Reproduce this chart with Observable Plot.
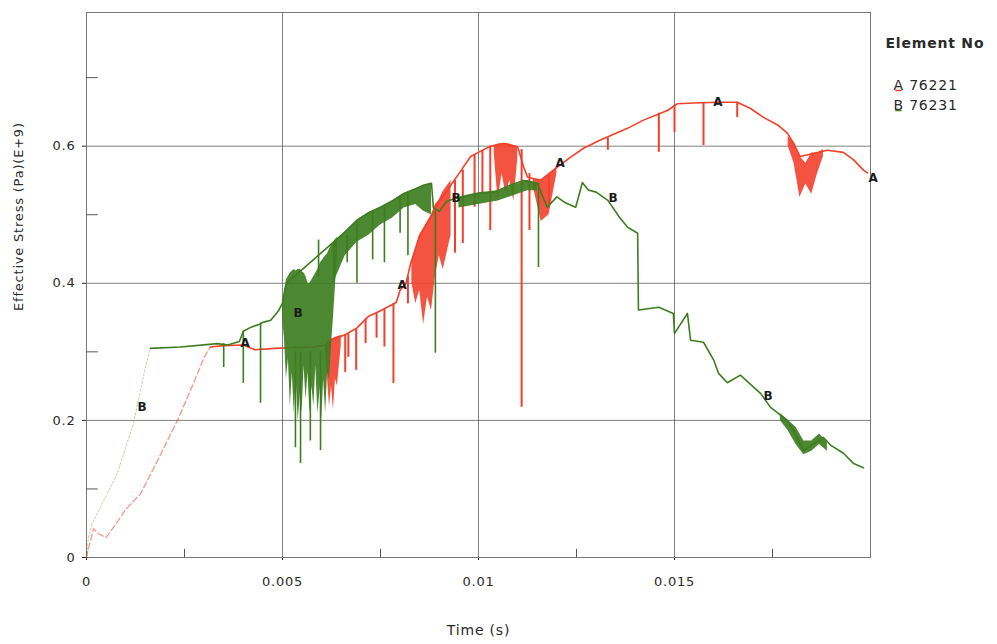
<!DOCTYPE html>
<html><head><meta charset="utf-8">
<script src="https://cdn.jsdelivr.net/npm/d3@7"></script>
<script src="https://cdn.jsdelivr.net/npm/@observablehq/plot@0.6"></script>
<style>body{margin:0;background:#fff}</style>
</head><body><div id="chart"></div>
<script>
// ---- axis ticks ----
const xTicks = [0, 0.005, 0.01, 0.015];
const xTickLabels = ["0", "0.005", "0.01", "0.015"];
const yTicks = [0, 0.2, 0.4, 0.6];
const yTickLabels = ["0", "0.2", "0.4", "0.6"];
const minorX = [0.0025, 0.0075, 0.0125, 0.0175];
const minorY = [0.1, 0.3, 0.5, 0.7];

// ---- series A: element 76221 (red) ----
const timeA = [0, 0.00008, 0.00018, 0.0003, 0.0005, 0.0007, 0.001, 0.00138, 0.0018, 0.00232, 0.0027, 0.003, 0.00316, 0.0035, 0.004, 0.0043, 0.0048, 0.0052, 0.0058, 0.0061, 0.0062, 0.00635, 0.0066, 0.0069, 0.0072, 0.0075, 0.0079, 0.008, 0.00815, 0.00827, 0.0085, 0.00878, 0.009, 0.00921, 0.0095, 0.0098, 0.01, 0.0103, 0.01064, 0.011, 0.01115, 0.01125, 0.01158, 0.01191, 0.01235, 0.01268, 0.01311, 0.0138, 0.01421, 0.01482, 0.01508, 0.0155, 0.01612, 0.0166, 0.01694, 0.01727, 0.01763, 0.01788, 0.01804, 0.0182, 0.0186, 0.0189, 0.01931, 0.01957, 0.01982, 0.01992];
const stressA = [0, 0.02, 0.042, 0.035, 0.029, 0.045, 0.07, 0.093, 0.14, 0.2, 0.25, 0.292, 0.307, 0.309, 0.31, 0.303, 0.305, 0.306, 0.307, 0.31, 0.317, 0.32, 0.325, 0.335, 0.352, 0.36, 0.372, 0.39, 0.4, 0.429, 0.47, 0.496, 0.52, 0.536, 0.56, 0.585, 0.591, 0.6, 0.604, 0.599, 0.57, 0.555, 0.55, 0.565, 0.584, 0.597, 0.609, 0.626, 0.638, 0.652, 0.662, 0.663, 0.664, 0.664, 0.655, 0.642, 0.631, 0.619, 0.604, 0.585, 0.59, 0.594, 0.591, 0.58, 0.565, 0.561];
// downward spikes: time, top, bottom
const spikeTimeA = [0.0066, 0.00668, 0.00688, 0.00712, 0.0074, 0.0076, 0.00783, 0.0082, 0.0094, 0.0096, 0.0099, 0.0101, 0.0103, 0.0111, 0.0113, 0.0118, 0.0133, 0.0146, 0.0150, 0.01574, 0.0166];
const spikeTopA = [0.325, 0.326, 0.333, 0.348, 0.356, 0.362, 0.37, 0.41, 0.55, 0.565, 0.588, 0.594, 0.6, 0.595, 0.56, 0.558, 0.612, 0.648, 0.66, 0.663, 0.664];
const spikeLowA = [0.27, 0.292, 0.273, 0.312, 0.32, 0.307, 0.254, 0.37, 0.444, 0.458, 0.511, 0.53, 0.477, 0.219, 0.477, 0.51, 0.594, 0.591, 0.62, 0.601, 0.642];
// densely oscillating stretches: time, upper, lower
const bandTimeA = [[0.0061, 0.0062, 0.00625, 0.0063, 0.00635, 0.0064, 0.0065], [0.0083, 0.0084, 0.0085, 0.0086, 0.0087, 0.0088, 0.0089, 0.009, 0.0091, 0.0093], [0.0104, 0.0105, 0.0106, 0.0107, 0.0108, 0.0109, 0.011], [0.0114, 0.0116, 0.0118, 0.012], [0.0179, 0.01805, 0.0182, 0.01835, 0.0185, 0.01865, 0.0188]];
const bandHighA = [[0.31, 0.317, 0.318, 0.32, 0.321, 0.322, 0.324], [0.43, 0.45, 0.47, 0.48, 0.49, 0.5, 0.515, 0.522, 0.534, 0.55], [0.601, 0.603, 0.604, 0.604, 0.603, 0.601, 0.599], [0.553, 0.551, 0.558, 0.57], [0.615, 0.604, 0.585, 0.575, 0.59, 0.59, 0.595]];
const bandLowA = [[0.3, 0.22, 0.25, 0.215, 0.26, 0.25, 0.31], [0.4, 0.37, 0.39, 0.34, 0.38, 0.36, 0.41, 0.44, 0.42, 0.47], [0.59, 0.52, 0.56, 0.53, 0.55, 0.52, 0.58], [0.54, 0.49, 0.5, 0.56], [0.6, 0.575, 0.525, 0.545, 0.53, 0.56, 0.585]];

// ---- series B: element 76231 (green) ----
const timeB = [0, 0.00005, 0.00015, 0.00079, 0.0012, 0.0015, 0.00163, 0.0024, 0.00334, 0.0036, 0.0039, 0.004, 0.0042, 0.0044, 0.0045, 0.0047, 0.0049, 0.005, 0.0051, 0.0063, 0.0066, 0.0069, 0.0072, 0.0075, 0.0078, 0.0081, 0.0084, 0.0086, 0.0088, 0.00885, 0.009, 0.0092, 0.00944, 0.0096, 0.01, 0.0104, 0.0108, 0.01115, 0.0115, 0.01175, 0.012, 0.0122, 0.01248, 0.01265, 0.0128, 0.013, 0.0133, 0.0136, 0.0138, 0.01406, 0.01408, 0.0146, 0.01497, 0.015, 0.01533, 0.01541, 0.01574, 0.016, 0.01612, 0.01635, 0.01668, 0.0172, 0.01745, 0.01788, 0.01804, 0.01829, 0.01855, 0.0188, 0.01898, 0.01931, 0.01957, 0.01982];
const stressB = [0, 0.03, 0.05, 0.123, 0.196, 0.277, 0.305, 0.307, 0.312, 0.31, 0.315, 0.33, 0.336, 0.34, 0.343, 0.346, 0.36, 0.371, 0.4, 0.46, 0.475, 0.492, 0.503, 0.511, 0.52, 0.531, 0.538, 0.543, 0.546, 0.51, 0.505, 0.52, 0.524, 0.526, 0.531, 0.533, 0.543, 0.55, 0.546, 0.511, 0.526, 0.518, 0.511, 0.547, 0.536, 0.533, 0.521, 0.496, 0.482, 0.473, 0.361, 0.365, 0.356, 0.327, 0.356, 0.317, 0.314, 0.288, 0.269, 0.255, 0.266, 0.239, 0.219, 0.2, 0.185, 0.156, 0.166, 0.175, 0.164, 0.152, 0.137, 0.131];
const spikeTimeB = [0.0035, 0.004, 0.00444, 0.00533, 0.00546, 0.00571, 0.00597, 0.00592, 0.00665, 0.0069, 0.0073, 0.0076, 0.008, 0.0082, 0.0089, 0.01153];
const spikeTopB = [0.312, 0.33, 0.342, 0.3, 0.3, 0.3, 0.3, 0.41, 0.47, 0.49, 0.505, 0.513, 0.525, 0.533, 0.505, 0.546];
const spikeLowB = [0.277, 0.254, 0.225, 0.16, 0.137, 0.17, 0.156, 0.463, 0.43, 0.4, 0.434, 0.43, 0.473, 0.44, 0.298, 0.423];
const bandTimeB = [[0.005, 0.00505, 0.0051, 0.00515, 0.0052, 0.00525, 0.0053, 0.00535, 0.0054, 0.00546, 0.0055, 0.00555, 0.0056, 0.00565, 0.0057, 0.00575, 0.0058, 0.00585, 0.0059, 0.00597, 0.006, 0.00605, 0.0061, 0.00615, 0.0062, 0.00625, 0.0063, 0.0064], [0.0063, 0.0066, 0.0069, 0.0072, 0.0075, 0.0078, 0.0081, 0.0084, 0.0086, 0.0088], [0.0095, 0.01, 0.0105, 0.011, 0.01125, 0.0115], [0.0177, 0.0179, 0.0181, 0.0183, 0.0185, 0.0187, 0.0189]];
const bandHighB = [[0.37, 0.39, 0.405, 0.41, 0.415, 0.418, 0.42, 0.418, 0.42, 0.42, 0.417, 0.415, 0.41, 0.40, 0.40, 0.405, 0.41, 0.415, 0.42, 0.43, 0.432, 0.436, 0.44, 0.443, 0.45, 0.455, 0.46, 0.467], [0.46, 0.475, 0.492, 0.503, 0.511, 0.52, 0.531, 0.538, 0.543, 0.546], [0.526, 0.532, 0.535, 0.545, 0.55, 0.546], [0.21, 0.2, 0.19, 0.17, 0.17, 0.18, 0.168]];
const bandLowB = [[0.35, 0.32, 0.26, 0.29, 0.22, 0.27, 0.21, 0.26, 0.2, 0.24, 0.21, 0.28, 0.23, 0.27, 0.21, 0.25, 0.22, 0.28, 0.21, 0.25, 0.2, 0.26, 0.21, 0.27, 0.26, 0.31, 0.35, 0.44], [0.4, 0.44, 0.46, 0.47, 0.485, 0.495, 0.51, 0.515, 0.505, 0.5], [0.51, 0.515, 0.52, 0.53, 0.535, 0.535], [0.2, 0.185, 0.165, 0.15, 0.155, 0.165, 0.155]];

// ---- curve letter markers ----
const markTimeA = [0.00406, 0.00806, 0.01209, 0.01612, 0.02008];
const markStressA = [0.313, 0.397, 0.575, 0.664, 0.553];
const markTimeB = [0.00143, 0.00541, 0.00944, 0.01344, 0.0174];
const markStressB = [0.219, 0.356, 0.524, 0.524, 0.235];

// ---- legend ----
const legendTitle = "Element No";
const legendLetters = ["A", "B"];
const legendIds = ["76221", "76231"];
const seriesColors = ["#f2402b", "#3d7d1f"];

const pts = (ts, ys) => ts.map((t, i) => ({t, y: ys[i]}));
const spikes = (ts, hi, lo) => ts.map((t, i) => ({t, hi: hi[i], lo: lo[i]}));
const bands = (tss, his, los, id) => tss.flatMap((ts, j) => ts.map((t, i) => ({band: id + j, t, hi: his[j][i], lo: los[j][i]})));

const lineA = pts(timeA, stressA), lineB = pts(timeB, stressB);
const spA = spikes(spikeTimeA, spikeTopA, spikeLowA), spB = spikes(spikeTimeB, spikeTopB, spikeLowB);
const bdA = bands(bandTimeA, bandHighA, bandLowA, "A"), bdB = bands(bandTimeB, bandHighB, bandLowB, "B");
const mkA = pts(markTimeA, markStressA), mkB = pts(markTimeB, markStressB);

const [red, green] = seriesColors;
// early, lightly-drawn loading ramps
const rampEndA = 0.00316, rampEndB = 0.00163;

// short horizontal dash symbol used as the legend underline
const dash = {draw(ctx, size) { const r = Math.sqrt(size) / 2; ctx.moveTo(-r, 0); ctx.lineTo(r, 0); }};

const legendMarks = legendLetters.flatMap((l, i) => [
  Plot.text([l + " " + legendIds[i]], {frameAnchor: "top-right", dx: 23, dy: 68 + i * 20, textAnchor: "start", fontSize: 14, fill: "#2a2a2a"}),
  Plot.dot([l], {frameAnchor: "top-right", dx: 28, dy: 78 + i * 20, symbol: dash, r: 3.5, stroke: seriesColors[i], strokeWidth: 1.5})
]);

const chart = Plot.plot({
  width: 997, height: 644,
  marginTop: 12, marginRight: 127, marginBottom: 87, marginLeft: 86,
  style: {fontFamily: "DejaVu Sans", fontSize: "13px", color: "#2a2a2a", background: "#fff", letterSpacing: "0.8px"},
  x: {domain: [0, 0.02], ticks: xTicks, tickFormat: d => xTickLabels[xTicks.indexOf(d)], tickSize: 3, tickPadding: 16, label: null},
  y: {domain: [0, 0.795], ticks: yTicks, tickFormat: d => yTickLabels[yTicks.indexOf(d)], tickSize: 4, tickPadding: 7, label: null},
  marks: [
    Plot.ruleX(xTicks.slice(1), {stroke: "#555", strokeOpacity: 0.75}),
    Plot.ruleY(yTicks.slice(1), {stroke: "#555", strokeOpacity: 0.75}),
    Plot.frame({stroke: "#777"}),
    Plot.ruleX(minorX, {y1: 0, y2: 0.012, stroke: "#555"}),
    Plot.ruleY(minorY, {x1: 0, x2: 0.0003, stroke: "#555"}),
    // red
    Plot.areaY(bdA, {x: "t", y1: "lo", y2: "hi", z: "band", fill: red, fillOpacity: 0.9}),
    Plot.ruleX(spA, {x: "t", y1: "hi", y2: "lo", stroke: red, strokeWidth: 2}),
    Plot.line(lineA.filter(d => d.t <= rampEndA), {x: "t", y: "y", stroke: red, strokeWidth: 1.3, strokeOpacity: 0.55, strokeDasharray: "6,3"}),
    Plot.line(lineA.filter(d => d.t >= rampEndA), {x: "t", y: "y", stroke: red, strokeWidth: 1.6}),
    // green
    Plot.areaY(bdB, {x: "t", y1: "lo", y2: "hi", z: "band", fill: green, fillOpacity: 0.92}),
    Plot.ruleX(spB, {x: "t", y1: "hi", y2: "lo", stroke: green, strokeWidth: 1.6}),
    Plot.line(lineB.filter(d => d.t <= rampEndB), {x: "t", y: "y", stroke: green, strokeWidth: 1, strokeOpacity: 0.35, strokeDasharray: "2,2"}),
    Plot.line(lineB.filter(d => d.t >= rampEndB), {x: "t", y: "y", stroke: green, strokeWidth: 1.6}),
    // letter markers
    Plot.text(mkA, {x: "t", y: "y", text: () => "A", fill: "#1a1a1a", fontWeight: "bold", fontSize: 12}),
    Plot.text(mkB, {x: "t", y: "y", text: () => "B", fill: "#1a1a1a", fontWeight: "bold", fontSize: 12}),
    // axis titles
    Plot.text(["Time (s)"], {frameAnchor: "bottom", dy: 73, lineAnchor: "middle", fontSize: 14}),
    Plot.text(["Effective Stress (Pa)(E+9)"], {frameAnchor: "left", rotate: -90, dx: -68, dy: 26, fontSize: 13}),
    // legend
    Plot.text([legendTitle], {frameAnchor: "top-right", dx: 15, dy: 26, textAnchor: "start", fontWeight: "bold", fontSize: 14}),
    ...legendMarks
  ]
});
document.getElementById("chart").append(chart);
</script>
</body></html>
